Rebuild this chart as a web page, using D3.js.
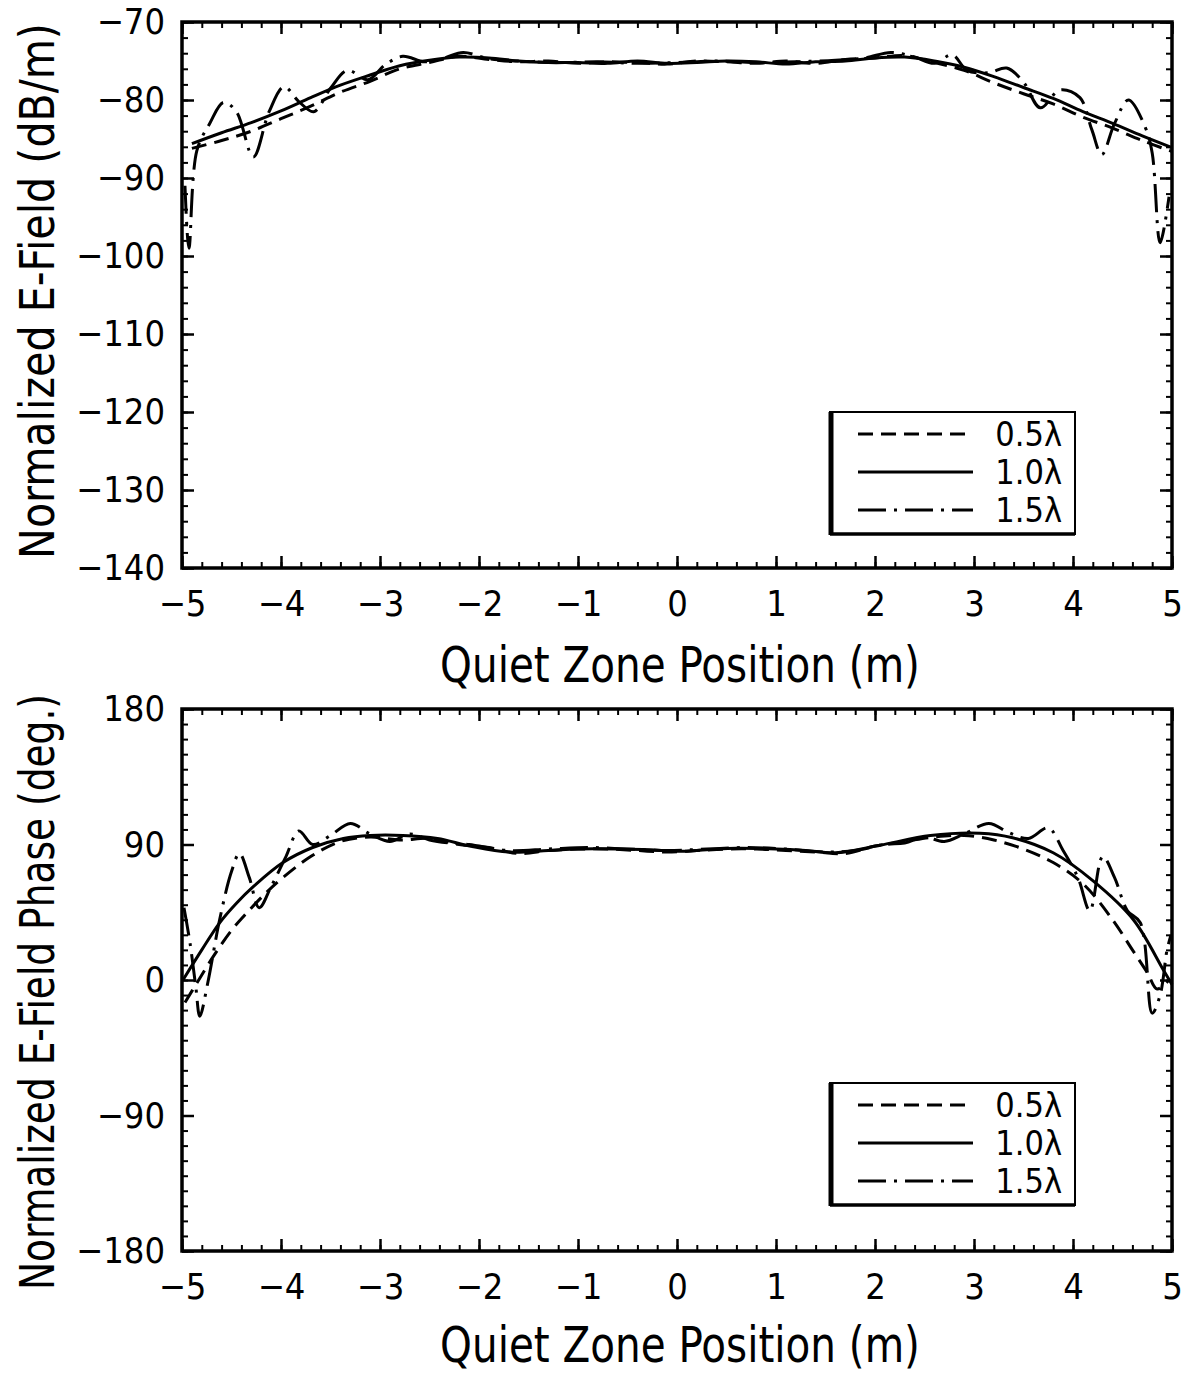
<!DOCTYPE html>
<html>
<head>
<meta charset="utf-8">
<script src="https://cdn.jsdelivr.net/npm/d3@7"></script>
<style>
  html, body { margin: 0; padding: 0; background: #fff; }
  svg { display: block; }
  text { font-family: 'Liberation Sans Narrow', 'DejaVu Sans Condensed', sans-serif; fill: #000; }
</style>
</head>
<body>
<div id="chart"></div>
<script>
// quiet zone position (m) vs value
const seriesNames = ['0.5λ', '1.0λ', '1.5λ'];
const xTicks = [-5, -4, -3, -2, -1, 0, 1, 2, 3, 4, 5];
const ampTicks = [-140, -130, -120, -110, -100, -90, -80, -70];
const phaseTicks = [-180, -90, 0, 90, 180];

const amp05 = [
  [-4.9, -86.2], [-4.6, -85.2], [-4.3, -84.0], [-4.0, -82.4], [-3.7, -80.8], [-3.4, -79.0],
  [-3.1, -77.6], [-2.8, -76.0], [-2.5, -75.2], [-2.2, -74.4], [-1.9, -74.8], [-1.6, -75.1],
  [-1.3, -75.0], [-1.0, -75.3], [-0.7, -75.1], [-0.4, -75.2], [-0.1, -75.4], [0.2, -75.0],
  [0.5, -75.1], [0.8, -75.3], [1.1, -75.0], [1.4, -75.3], [1.7, -74.8], [2.0, -74.6],
  [2.3, -74.3], [2.6, -75.2], [2.9, -76.2], [3.2, -77.8], [3.5, -79.2], [3.8, -80.5],
  [4.1, -82.2], [4.4, -83.6], [4.7, -85.2], [5.0, -86.6]
];
const amp10 = [
  [-4.9, -85.6], [-4.6, -84.2], [-4.3, -82.9], [-4.0, -81.4], [-3.7, -79.7], [-3.4, -78.1],
  [-3.1, -76.8], [-2.8, -75.6], [-2.5, -74.9], [-2.2, -74.5], [-1.9, -74.6], [-1.6, -75.0],
  [-1.3, -75.2], [-1.0, -75.2], [-0.7, -75.3], [-0.4, -75.0], [-0.1, -75.3], [0.2, -75.2],
  [0.5, -75.0], [0.8, -75.1], [1.1, -75.4], [1.4, -75.1], [1.7, -75.0], [2.0, -74.6],
  [2.3, -74.5], [2.6, -75.0], [2.9, -75.8], [3.2, -77.0], [3.5, -78.4], [3.8, -79.8],
  [4.1, -81.5], [4.4, -83.0], [4.7, -84.6], [5.0, -86.1]
];
const amp15 = [
  [-4.97, -91], [-4.93, -99], [-4.85, -86.5], [-4.72, -83], [-4.58, -80.3], [-4.45, -81.5],
  [-4.28, -87.3], [-4.12, -81.5], [-3.97, -78.3], [-3.82, -80.2], [-3.67, -81.5], [-3.5, -78.5],
  [-3.33, -76.2], [-3.12, -77.4], [-2.95, -75.5], [-2.77, -74.4], [-2.55, -75.1], [-2.35, -74.6],
  [-2.16, -73.9], [-1.9, -74.7], [-1.6, -75.0], [-1.2, -75.2], [-0.8, -75.1], [-0.4, -75.3],
  [0.0, -75.2], [0.4, -75.0], [0.8, -75.2], [1.2, -75.1], [1.6, -74.9], [1.9, -74.6],
  [2.16, -73.9], [2.4, -74.5], [2.6, -75.3], [2.78, -74.2], [2.93, -76.2], [3.15, -76.5],
  [3.33, -75.9], [3.5, -77.7], [3.67, -81.0], [3.87, -78.7], [4.07, -79.7], [4.19, -83.8],
  [4.29, -87.0], [4.42, -83.0], [4.56, -80.0], [4.73, -83.5], [4.8, -86.8], [4.88, -98.3],
  [4.97, -92.4]
];

const phase05 = [
  [-4.97, -15], [-4.85, -2], [-4.7, 14], [-4.5, 33], [-4.34, 45], [-4.15, 58], [-4.0, 67],
  [-3.7, 82], [-3.4, 92], [-3.1, 95], [-2.8, 93], [-2.5, 94], [-2.2, 90], [-1.9, 88],
  [-1.6, 84], [-1.3, 86], [-1.0, 87], [-0.7, 87], [-0.4, 86], [-0.1, 85], [0.2, 86],
  [0.5, 87], [0.8, 87], [1.1, 86], [1.4, 85], [1.7, 84], [2.0, 89], [2.3, 92], [2.6, 95],
  [2.9, 96], [3.2, 93], [3.5, 87], [3.8, 78], [4.1, 64], [4.4, 40], [4.6, 20], [4.75, 5],
  [4.85, -6], [4.97, 0]
];
const phase10 = [
  [-4.99, 0], [-4.8, 20], [-4.62, 38], [-4.45, 51], [-4.28, 62], [-3.98, 78], [-3.68, 88],
  [-3.37, 94], [-3.1, 96], [-2.77, 96], [-2.42, 94], [-2.09, 89], [-1.7, 85], [-1.3, 86],
  [-1.0, 87], [-0.6, 87], [-0.27, 86.5], [0.0, 85.5], [0.3, 86.5], [0.6, 87.5], [1.0, 87],
  [1.3, 86], [1.6, 84.5], [2.05, 89.5], [2.56, 96], [3.06, 97.5], [3.39, 94.5], [3.8, 84.5],
  [4.2, 66], [4.61, 40], [4.91, 7], [5.0, -3]
];
const phase15 = [
  [-4.98, 48], [-4.92, 25], [-4.86, -5], [-4.82, -24], [-4.74, -2], [-4.62, 40], [-4.5, 72],
  [-4.42, 84], [-4.32, 68], [-4.22, 48], [-4.1, 62], [-3.95, 82], [-3.82, 99], [-3.68, 90],
  [-3.5, 96], [-3.3, 104], [-3.1, 97], [-2.9, 92], [-2.7, 97], [-2.5, 93], [-2.3, 91],
  [-2.1, 90], [-1.7, 86], [-1.3, 87], [-0.9, 88], [-0.5, 87], [-0.1, 86], [0.3, 87],
  [0.7, 88], [1.1, 87], [1.5, 85], [1.8, 86], [2.1, 90], [2.3, 91], [2.5, 95], [2.7, 92],
  [2.9, 97], [3.15, 104], [3.35, 98], [3.55, 94], [3.75, 101], [3.9, 86], [4.05, 68],
  [4.17, 46], [4.3, 82], [4.42, 68], [4.55, 46], [4.68, 38], [4.8, -22], [4.88, -10],
  [4.95, 20], [4.99, 30]
];

const dashStyles = ['15,8', null, '28,8,3,8'];

const width = 1188;
const height = 1378;
const plotLeft = 182;
const plotRight = 1172;

const svg = d3.select('#chart').append('svg').attr('width', width).attr('height', height);
svg.append('rect').attr('width', width).attr('height', height).attr('fill', '#fff');

const x = d3.scaleLinear().domain([-5, 5]).range([plotLeft, plotRight]);

function fmt(d) {
  return d < 0 ? '\u2212' + Math.abs(d) : String(d);
}

// squeeze a text horizontally (in its own frame) so it spans `target` px
function fitText(sel, baseTransform, target) {
  const natural = sel.node().getComputedTextLength();
  const k = Math.min(1, target / natural);
  sel.attr('transform', `${baseTransform} scale(${k},1)`);
}

function drawPanel({ top, bottom, yDomain, yTicks, yMinorStep, series, yTitle, xTitleY, legendTop }) {
  const y = d3.scaleLinear().domain(yDomain).range([bottom, top]);
  const g = svg.append('g');
  const innerH = bottom - top;
  const innerW = plotRight - plotLeft;
  const yMinor = d3.range(yDomain[0], yDomain[1] + 1e-6, yMinorStep);
  const xMinor = d3.range(-5, 5.0001, 0.2);

  // minor ticks, all four sides, pointing in
  const minorGroups = [
    [d3.axisBottom(x).tickValues(xMinor), `translate(0,${bottom})`],
    [d3.axisTop(x).tickValues(xMinor), `translate(0,${top})`],
    [d3.axisLeft(y).tickValues(yMinor), `translate(${plotLeft},0)`],
    [d3.axisRight(y).tickValues(yMinor), `translate(${plotRight},0)`]
  ];
  for (const [axis, tr] of minorGroups) {
    const a = g.append('g').attr('transform', tr).call(axis.tickSize(-6).tickFormat(''));
    a.select('.domain').remove();
    a.selectAll('line').attr('stroke', '#000').attr('stroke-width', 2);
  }

  const majorX = g.append('g').attr('transform', `translate(0,${bottom})`)
    .call(d3.axisBottom(x).tickValues(xTicks).tickSize(-12).tickPadding(22).tickFormat(fmt));
  majorX.selectAll('text').attr('font-size', 36).attr('dy', '0.71em');
  const majorXTop = g.append('g').attr('transform', `translate(0,${top})`)
    .call(d3.axisTop(x).tickValues(xTicks).tickSize(-12).tickFormat(''));
  const majorY = g.append('g').attr('transform', `translate(${plotLeft},0)`)
    .call(d3.axisLeft(y).tickValues(yTicks).tickSize(-12).tickPadding(17).tickFormat(fmt));
  majorY.selectAll('text').attr('font-size', 36);
  const majorYRight = g.append('g').attr('transform', `translate(${plotRight},0)`)
    .call(d3.axisRight(y).tickValues(yTicks).tickSize(-12).tickFormat(''));
  for (const a of [majorX, majorXTop, majorY, majorYRight]) {
    a.select('.domain').remove();
    a.selectAll('line').attr('stroke', '#000').attr('stroke-width', 2.5);
    a.selectAll('text').attr('fill', '#000').style('font-family', null);
  }

  g.append('rect')
    .attr('x', plotLeft).attr('y', top).attr('width', innerW).attr('height', innerH)
    .attr('fill', 'none').attr('stroke', '#000').attr('stroke-width', 3.5);

  const line = d3.line()
    .x(d => x(d[0]))
    .y(d => y(d[1]))
    .curve(d3.curveCatmullRom.alpha(0.5));

  series.forEach((data, i) => {
    g.append('path')
      .datum(data)
      .attr('d', line)
      .attr('fill', 'none')
      .attr('stroke', '#000')
      .attr('stroke-width', 3)
      .attr('stroke-dasharray', dashStyles[i]);
  });

  // titles
  const xt = g.append('text')
    .attr('text-anchor', 'middle')
    .attr('font-size', 50)
    .text('Quiet Zone Position (m)');
  fitText(xt, `translate(${(plotLeft + plotRight) / 2 + 3},${xTitleY})`, 480);

  const yt = g.append('text')
    .attr('text-anchor', 'middle')
    .attr('font-size', 48)
    .text(yTitle.text);
  fitText(yt, `translate(54,${yTitle.center}) rotate(-90)`, yTitle.length);

  // legend
  const lx = 830;
  const lw = 245;
  const lh = 122;
  const leg = g.append('g');
  leg.append('rect')
    .attr('x', lx).attr('y', legendTop).attr('width', lw).attr('height', lh)
    .attr('fill', '#fff').attr('stroke', '#000').attr('stroke-width', 2);
  leg.append('line')
    .attr('x1', lx + 1).attr('x2', lx + 1).attr('y1', legendTop).attr('y2', legendTop + lh + 1)
    .attr('stroke', '#000').attr('stroke-width', 5);
  leg.append('line')
    .attr('x1', lx).attr('x2', lx + lw).attr('y1', legendTop + lh).attr('y2', legendTop + lh)
    .attr('stroke', '#000').attr('stroke-width', 3.5);
  seriesNames.forEach((name, i) => {
    const ry = legendTop + 22 + i * 38;
    leg.append('line')
      .attr('x1', lx + 28).attr('x2', lx + 143).attr('y1', ry).attr('y2', ry)
      .attr('stroke', '#000').attr('stroke-width', 3)
      .attr('stroke-dasharray', dashStyles[i]);
    leg.append('text')
      .attr('x', lx + 232).attr('y', ry)
      .attr('dy', '0.36em')
      .attr('text-anchor', 'end')
      .attr('font-size', 34)
      .text(name);
  });
}

drawPanel({
  top: 22,
  bottom: 568,
  yDomain: [-140, -70],
  yTicks: ampTicks,
  yMinorStep: 2,
  series: [amp05, amp10, amp15],
  yTitle: { text: 'Normalized E-Field (dB/m)', center: 291, length: 536 },
  xTitleY: 682,
  legendTop: 412
});

drawPanel({
  top: 709,
  bottom: 1251,
  yDomain: [-180, 180],
  yTicks: phaseTicks,
  yMinorStep: 10,
  series: [phase05, phase10, phase15],
  yTitle: { text: 'Normalized E-Field Phase (deg.)', center: 992, length: 596 },
  xTitleY: 1362,
  legendTop: 1083
});
</script>
</body>
</html>
